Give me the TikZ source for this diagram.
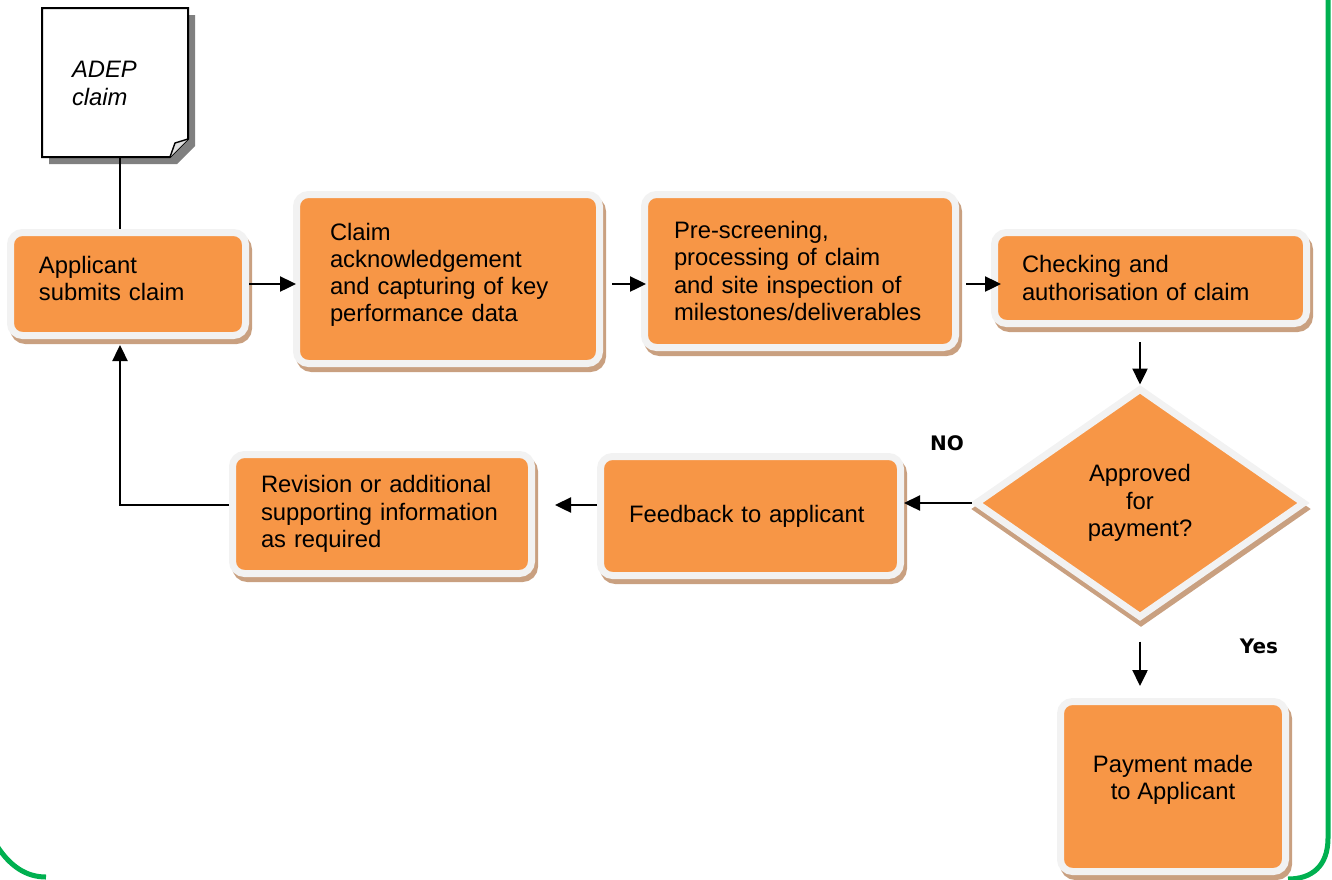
\documentclass[tikz,border=0pt]{standalone}
\usepackage{fontspec}
\setmainfont{Liberation Sans}
\newfontfamily\answerfont{DejaVu Sans}
\usepackage{xcolor}
\usepackage{tikz}
\usetikzlibrary{arrows.meta,positioning,shapes.geometric,shadows}
\definecolor{boxorange}{HTML}{F79646}
\definecolor{boxrim}{HTML}{F2F2F2}
\definecolor{shadowtan}{HTML}{C9A080}
\definecolor{docshadow}{HTML}{808080}
\definecolor{framegreen}{HTML}{00B050}

\begin{document}
\begin{tikzpicture}[
  x=0.5pt,y=-0.5pt,
  font=\fontsize{11.9}{13.6}\selectfont,
  box/.style={draw=boxrim,line width=3.5pt,fill=boxorange,rounded corners=6pt,align=left,inner ysep=0pt,inner xsep=14.25pt,
    general shadow={draw=shadowtan,fill=shadowtan,line width=3.5pt,shadow xshift=1.5pt,shadow yshift=-2.5pt}},
  decision/.style={draw=boxrim,line width=3.5pt,fill=boxorange,diamond,align=center,inner sep=0pt,
    general shadow={draw=shadowtan,fill=shadowtan,line width=3.5pt,shadow xshift=0.5pt,shadow yshift=-3pt}},
  arr/.style={-{Triangle[length=8pt,width=7.5pt]},line width=1.2pt},
  answer/.style={font=\answerfont\bfseries\fontsize{10}{12}\selectfont},
  frame/.style={draw=framegreen,line width=2.5pt}
]
\useasboundingbox (0,0) rectangle (1332,879);

% claim document
\fill[docshadow] (49,15) -- (195,15) -- (195,146) -- (177,164) -- (49,164) -- cycle;
\draw[fill=white,line width=1pt] (42,8) -- (188,8) -- (188,139) -- (170,157) -- (42,157) -- cycle;
\draw[fill=gray!25,line width=0.7pt] (170,157) .. controls (172,150) .. (175,143) -- (188,139);
\node[align=left,text width=43pt,inner xsep=15pt,minimum width=73pt,minimum height=75pt,font=\itshape\fontsize{11.9}{14}\selectfont] (claim) at (115,83) {ADEP\\claim};

% process boxes
\node[box,minimum width=117.5pt,minimum height=51.5pt,text width=89pt,text depth=19.5pt] (submit) at (128,284) {Applicant\\submits claim};
\node[box,minimum width=151.5pt,minimum height=84.5pt,inner xsep=16.75pt,text width=118pt,text depth=47.5pt] (ack) at (448,279) {Claim\\acknowledgement\\and capturing of key\\performance data};
\node[box,minimum width=155.5pt,minimum height=76.5pt,inner xsep=14.75pt,text width=126pt] (screen) at (800,271) {Pre-screening,\\processing of claim\\and site inspection of\\milestones/deliverables};
\node[box,minimum width=156pt,minimum height=45.5pt,inner xsep=13.75pt,text width=128.5pt] (check) at (1150.5,278) {Checking and\\authorisation of claim};
\node[decision,minimum width=165pt,minimum height=115pt] (approve) at (1140,503) {Approved\\for\\payment?};
\node[box,minimum width=150pt,minimum height=59.5pt,text width=121.5pt] (feedback) at (750.5,516) {Feedback to applicant};
\node[box,minimum width=149.5pt,minimum height=59.5pt,text width=121pt] (revise) at (382,514) {Revision or additional\\supporting information\\as required};
\node[box,minimum width=112.5pt,minimum height=85pt,align=center,text depth=9.5pt] (pay) at (1173,786.5) {Payment made\\to Applicant};

% answers
\node[answer] (no) at (947,443) {NO};
\node[answer] (yes) at (1259,646) {Yes};

% connectors
\coordinate (loop) at (120,505);
\draw[line width=1pt] (loop |- claim.south) -- (loop |- submit.north);
\draw[arr,shorten >=-1.5pt] (submit.east) -- (submit.east -| ack.west);
\draw[arr,shorten <=4.5pt,shorten >=-2.5pt] (ack.east |- submit.east) -- (screen.west |- submit.east);
\draw[arr,shorten <=3.5pt,shorten >=-5pt] (screen.east |- submit.east) -- (check.west |- submit.east);
\draw[arr,shorten <=7.5pt] (approve.north |- check.south) -- (approve.north);
\draw[arr] (approve.west) -- (approve.west -| feedback.east);
\draw[arr,shorten >=10pt] ([yshift=5.5pt]feedback.west) -- ([yshift=5.5pt]feedback.west -| revise.east);
\draw[arr,shorten >=3pt] (revise.west |- loop) -- (loop) -- (loop |- submit.south);
\draw[arr,shorten <=10pt,shorten >=6pt] (approve.south) -- (approve.south |- pay.north);

% green frame
\draw[frame] (1328,-4) -- (1328,838) .. controls (1328,866) and (1312,879) .. (1288,879);
\draw[frame] (-3,846) .. controls (10,866) and (26,877) .. (46,877);
\end{tikzpicture}
\end{document}
